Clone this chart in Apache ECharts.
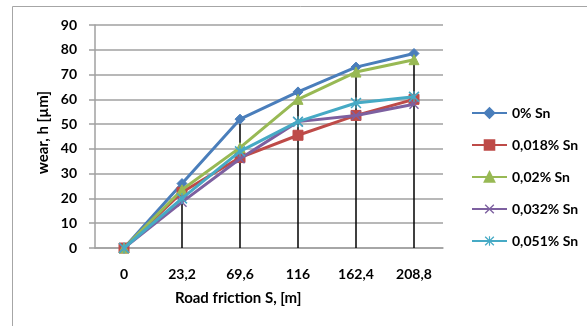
<!DOCTYPE html>
<html>
<head>
<meta charset="utf-8">
<script src="https://cdn.jsdelivr.net/npm/echarts@6/dist/echarts.min.js"></script>
<style>
  html, body { margin: 0; padding: 0; background: #fff; }
  #chart { width: 587px; height: 326px; }
</style>
</head>
<body>
<div id="chart"></div>
<script>
// Road friction distances (category labels)
const categories = ['0', '23,2', '69,6', '116', '162,4', '208,8'];

// Wear h [µm] for each tin content
const sn0    = [0, 26, 52, 63, 73, 78.5];
const sn018  = [0, 22.5, 36.5, 45.5, 53.5, 60];
const sn02   = [0, 23.5, 40.5, 60, 71, 76];
const sn032  = [0, 18.5, 36, 51, 53.5, 58];
const sn051  = [0, 20, 39, 51, 58.5, 61];

const seriesNames = ['0% Sn', '0,018% Sn', '0,02% Sn', '0,032% Sn', '0,051% Sn'];
const yTicks = { min: 0, max: 90, step: 10 };

const colors = ['#4A7EBB', '#BE4B48', '#98B954', '#7D60A0', '#46AAC5'];

// Marker shapes: cross and asterisk built as filled outlines
const crossPath = 'path://M0,1 L1,0 L5,4 L9,0 L10,1 L6,5 L10,9 L9,10 L5,6 L1,10 L0,9 L4,5 Z';
const starPath = 'path://M0,1 L1,0 L4.4,3.4 L4.4,0 L5.6,0 L5.6,3.4 L9,0 L10,1 L6.4,4.6 L6.4,5.4 L10,9 L9,10 L5.6,6.6 L5.6,10 L4.4,10 L4.4,6.6 L1,10 L0,9 L3.6,5.4 L3.6,4.6 Z';
const symbols = ['diamond', 'rect', 'triangle', crossPath, starPath];
const symbolSizes = [10, 10, 10, 10, 11];

const allData = [sn0, sn018, sn02, sn032, sn051];
// Drop lines reach from the axis up to the highest reading in each category
const dropTops = categories.map((_, i) => Math.max(...allData.map(d => d[i])));

const font = 'Lato, "Open Sans", sans-serif';

const chart = echarts.init(document.getElementById('chart'), null, { renderer: 'canvas' });

const lineSeries = allData.map((d, i) => ({
  name: seriesNames[i],
  type: 'line',
  data: d,
  symbol: symbols[i],
  symbolSize: symbolSizes[i],
  showAllSymbol: true,
  lineStyle: { color: colors[i], width: 3 },
  itemStyle: { color: colors[i], borderColor: colors[i], borderWidth: i >= 3 ? 0 : 1 },
  emphasis: { disabled: true },
  z: 3 + i,
  animation: false
}));

chart.setOption({
  animation: false,
  graphic: [
    {
      type: 'rect',
      shape: { x: 12.5, y: 6.5, width: 700, height: 400 },
      style: { fill: 'none', stroke: '#a6a6a6', lineWidth: 1 },
      silent: true,
      z: -10
    },
    {
      type: 'text',
      left: 175,
      top: 291,
      style: { text: 'Road friction S, [m]', font: 'bold 15px ' + font, fill: '#000' }
    },
    {
      type: 'text',
      left: 36,
      top: 91,
      rotation: Math.PI / 2,
      style: { text: 'wear, h [µm]', font: 'bold 15px ' + font, fill: '#000' }
    }
  ],
  grid: { left: 95, right: 144, top: 25, bottom: 78 },
  legend: {
    orient: 'vertical',
    left: 466,
    top: 101,
    itemWidth: 35,
    itemHeight: 12,
    itemGap: 18,
    data: seriesNames,
    textStyle: { fontFamily: font, fontWeight: 'bold', fontSize: 14, color: '#000' },
    selectedMode: false
  },
  xAxis: {
    type: 'category',
    data: categories,
    boundaryGap: true,
    axisLine: { lineStyle: { color: '#a0a0a0', width: 1.5 } },
    axisTick: { show: false },
    axisLabel: { margin: 19, fontFamily: font, fontWeight: 'bold', fontSize: 14, color: '#000' },
    splitLine: { show: false }
  },
  yAxis: {
    type: 'value',
    min: yTicks.min,
    max: yTicks.max,
    interval: yTicks.step,
    axisLine: { show: true, lineStyle: { color: '#a0a0a0', width: 1.5 } },
    axisTick: { show: true, length: 6, lineStyle: { color: '#a0a0a0', width: 1.5 } },
    axisLabel: { margin: 18, fontFamily: font, fontWeight: 'bold', fontSize: 14, color: '#000' },
    splitLine: { show: true, lineStyle: { color: '#a0a0a0', width: 1.5 } }
  },
  series: [
    {
      name: 'drop',
      type: 'bar',
      data: dropTops,
      barWidth: 1.5,
      itemStyle: { color: '#000' },
      silent: true,
      z: 2,
      animation: false
    },
    ...lineSeries
  ]
});
</script>
</body>
</html>
